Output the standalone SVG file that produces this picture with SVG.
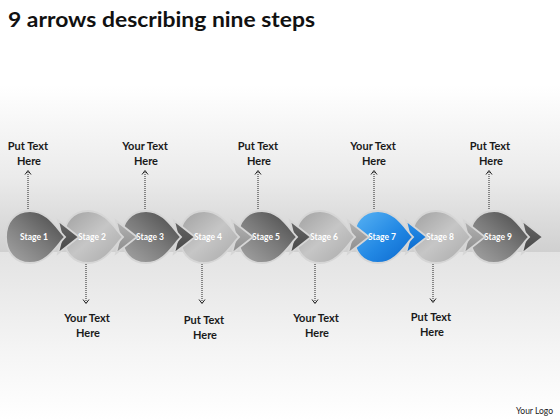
<svg xmlns="http://www.w3.org/2000/svg" width="560" height="420" viewBox="0 0 560 420">
<defs>
<linearGradient id="bgTop" x1="0" y1="0" x2="0" y2="1">
<stop offset="0" stop-color="#ffffff"/>
<stop offset="0.55" stop-color="#ebebeb"/>
<stop offset="1" stop-color="#d0d0d0"/>
</linearGradient>
<linearGradient id="bgBot" x1="0" y1="0" x2="0" y2="1">
<stop offset="0" stop-color="#e3e3e3"/>
<stop offset="0.6" stop-color="#f5f5f5"/>
<stop offset="1" stop-color="#ffffff"/>
</linearGradient>
<linearGradient id="gDark" x1="0" y1="1" x2="1" y2="0">
<stop offset="0" stop-color="#a6a6a6"/>
<stop offset="0.5" stop-color="#7a7a7a"/>
<stop offset="1" stop-color="#454545"/>
</linearGradient>
<linearGradient id="gLight" x1="0" y1="0" x2="1" y2="1">
<stop offset="0" stop-color="#a0a0a0"/>
<stop offset="0.5" stop-color="#c6c6c6"/>
<stop offset="1" stop-color="#a8a8a8"/>
</linearGradient>
<linearGradient id="gBlue" x1="0" y1="0" x2="1" y2="1">
<stop offset="0" stop-color="#5ab4f4"/>
<stop offset="0.55" stop-color="#2288e4"/>
<stop offset="1" stop-color="#0a66cc"/>
</linearGradient>
<linearGradient id="aDark" x1="0" y1="0" x2="0" y2="1">
<stop offset="0" stop-color="#666666"/>
<stop offset="1" stop-color="#474747"/>
</linearGradient>
<linearGradient id="aLight" x1="0" y1="0" x2="0" y2="1">
<stop offset="0" stop-color="#b4b4b4"/>
<stop offset="1" stop-color="#8c8c8c"/>
</linearGradient>
<linearGradient id="aBlue" x1="0" y1="0" x2="0" y2="1">
<stop offset="0" stop-color="#2a90ea"/>
<stop offset="1" stop-color="#0868cc"/>
</linearGradient>
<path id="body" d="M30,0 C22,-8 13,-26 -5,-26 C-20,-26 -29,-15 -29,0 C-29,15 -20,26 -5,26 C13,26 22,8 30,0 Z"/>
<path id="head" d="M23,-16.5 L44,0 L23,16.5 L27,0 Z"/>
</defs>
<style>
.rim{stroke:#d6d6d6;stroke-width:1.8}
.stg{font-family:Lato,"Liberation Sans",sans-serif;font-weight:bold;font-size:8.5px;fill:#ffffff;text-anchor:middle}
.lbl{font-family:Lato,"Liberation Sans",sans-serif;font-weight:bold;font-size:11px;fill:#1a1a1a;text-anchor:middle}
.dot{stroke:#222;stroke-width:1;stroke-dasharray:1 1;fill:none}
.chev{stroke:#222;stroke-width:1;fill:none}
</style>
<rect width="560" height="420" fill="#ffffff"/>
<rect x="0" y="85" width="560" height="167" fill="url(#bgTop)"/>
<rect x="0" y="252" width="560" height="168" fill="url(#bgBot)"/>
<text x="8" y="27" font-family="Lato,'Liberation Sans',sans-serif" font-weight="bold" font-size="21" fill="#111" textLength="307" lengthAdjust="spacingAndGlyphs">9 arrows describing nine steps</text>
<g id="connectors">
<path class="dot" d="M28,209 V171"/><path class="chev" d="M25,174.5 L28,170.5 L31,174.5"/>
<path class="dot" d="M145,209 V171"/><path class="chev" d="M142,174.5 L145,170.5 L148,174.5"/>
<path class="dot" d="M258,209 V171"/><path class="chev" d="M255,174.5 L258,170.5 L261,174.5"/>
<path class="dot" d="M374,209 V171"/><path class="chev" d="M371,174.5 L374,170.5 L377,174.5"/>
<path class="dot" d="M489,209 V171"/><path class="chev" d="M486,174.5 L489,170.5 L492,174.5"/>
<path class="dot" d="M86,264 V303"/><path class="chev" d="M83,299.5 L86,303.5 L89,299.5"/>
<path class="dot" d="M202,264 V303"/><path class="chev" d="M199,299.5 L202,303.5 L205,299.5"/>
<path class="dot" d="M315,264 V303"/><path class="chev" d="M312,299.5 L315,303.5 L318,299.5"/>
<path class="dot" d="M433,264 V302"/><path class="chev" d="M430,298.5 L433,302.5 L436,298.5"/>
</g>
<g id="stage9" transform="translate(499,237)"><use href="#head" fill="url(#aDark)" class="rim"/><use href="#body" fill="url(#gDark)" class="rim"/><text class="stg" x="-1" y="3">Stage 9</text></g>
<g id="stage8" transform="translate(441,237)"><use href="#head" fill="url(#aLight)" class="rim"/><use href="#body" fill="url(#gLight)" class="rim"/><text class="stg" x="-1" y="3">Stage 8</text></g>
<g id="stage7" transform="translate(383,237)"><use href="#head" fill="url(#aBlue)" class="rim"/><use href="#body" fill="url(#gBlue)" class="rim"/><text class="stg" x="-1" y="3">Stage 7</text></g>
<g id="stage6" transform="translate(325,237)"><use href="#head" fill="url(#aLight)" class="rim"/><use href="#body" fill="url(#gLight)" class="rim"/><text class="stg" x="-1" y="3">Stage 6</text></g>
<g id="stage5" transform="translate(267,237)"><use href="#head" fill="url(#aDark)" class="rim"/><use href="#body" fill="url(#gDark)" class="rim"/><text class="stg" x="-1" y="3">Stage 5</text></g>
<g id="stage4" transform="translate(209,237)"><use href="#head" fill="url(#aLight)" class="rim"/><use href="#body" fill="url(#gLight)" class="rim"/><text class="stg" x="-1" y="3">Stage 4</text></g>
<g id="stage3" transform="translate(151,237)"><use href="#head" fill="url(#aDark)" class="rim"/><use href="#body" fill="url(#gDark)" class="rim"/><text class="stg" x="-1" y="3">Stage 3</text></g>
<g id="stage2" transform="translate(93,237)"><use href="#head" fill="url(#aLight)" class="rim"/><use href="#body" fill="url(#gLight)" class="rim"/><text class="stg" x="-1" y="3">Stage 2</text></g>
<g id="stage1" transform="translate(35,237)"><use href="#head" fill="url(#aDark)" class="rim"/><use href="#body" fill="url(#gDark)" class="rim"/><text class="stg" x="-1" y="3">Stage 1</text></g>
<g id="label1"><text class="lbl" x="28" y="150">Put Text</text><text class="lbl" x="29" y="165">Here</text></g>
<g id="label3"><text class="lbl" x="145" y="150">Your Text</text><text class="lbl" x="146" y="165">Here</text></g>
<g id="label5"><text class="lbl" x="258" y="150">Put Text</text><text class="lbl" x="259" y="165">Here</text></g>
<g id="label7"><text class="lbl" x="373" y="150">Your Text</text><text class="lbl" x="374" y="165">Here</text></g>
<g id="label9"><text class="lbl" x="490" y="150">Put Text</text><text class="lbl" x="491" y="165">Here</text></g>
<g id="label2"><text class="lbl" x="87" y="322">Your Text</text><text class="lbl" x="88" y="337">Here</text></g>
<g id="label4"><text class="lbl" x="204" y="324">Put Text</text><text class="lbl" x="205" y="339">Here</text></g>
<g id="label6"><text class="lbl" x="316" y="322">Your Text</text><text class="lbl" x="317" y="337">Here</text></g>
<g id="label8"><text class="lbl" x="431" y="321">Put Text</text><text class="lbl" x="432" y="336">Here</text></g>
<text x="553" y="414" text-anchor="end" font-family="Lato,'Liberation Sans',sans-serif" font-size="8.5" fill="#222">Your Logo</text>
</svg>
